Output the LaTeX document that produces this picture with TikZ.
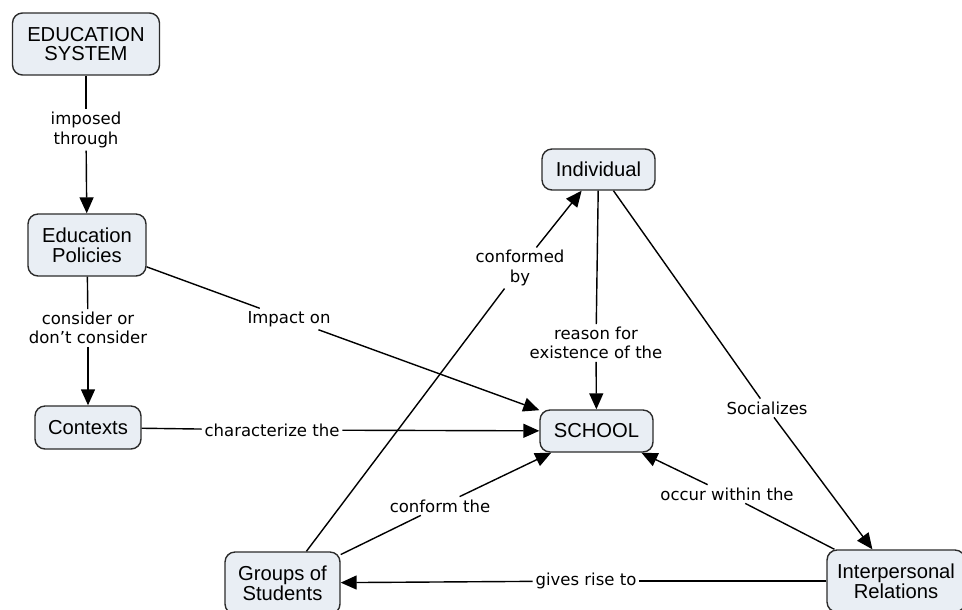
\documentclass[tikz,border=0pt]{standalone}
\usepackage{fontspec}
\setmainfont{Liberation Sans}
\newfontfamily\linkfont{DejaVu Sans}
\usepackage{xcolor}
\usetikzlibrary{arrows.meta,positioning}

\definecolor{conceptfill}{HTML}{E9EEF4}
\definecolor{conceptdraw}{HTML}{2B2B2B}

\tikzset{
    concept/.style={draw=conceptdraw, line width=0.8pt, fill=conceptfill, rounded corners=0.2cm,
        align=center, inner sep=2pt, font=\fontsize{11.5}{11.3}\selectfont},
    linklabel/.style={fill=white, align=center, inner sep=1.5pt,
        font=\linkfont\fontsize{9.4}{10.9}\selectfont},
    link/.style={line width=0.8pt, draw=black},
    arrowlink/.style={link, -{Triangle[length=0.32cm, width=0.28cm]}}
}

\begin{document}
\begin{tikzpicture}[x=0.02cm, y=-0.02cm]
    \useasboundingbox (0,0) rectangle (962,609);

    % Concepts
    \node[concept, minimum width=2.94cm, minimum height=1.24cm] (system) at (86,44) {EDUCATION\\SYSTEM};
    \node[concept, minimum width=2.36cm, minimum height=1.24cm] (policies) at (87,245) {Education\\Policies};
    \node[concept, minimum width=2.12cm, minimum height=0.86cm] (contexts) at (88,427.5) {Contexts};
    \node[concept, minimum width=2.26cm, minimum height=0.84cm] (school) at (596.5,431) {SCHOOL};
    \node[concept, minimum width=2.26cm, minimum height=0.82cm] (individual) at (598.5,169.5) {Individual};
    \node[concept, minimum width=2.30cm, minimum height=1.24cm] (groups) at (282.5,583) {Groups of\\Students};
    \node[concept, minimum width=2.76cm, minimum height=1.24cm] (relations) at (896,581) {Interpersonal\\Relations};

    % Linking phrases
    \node[linklabel] (imposed) at (86,130) {imposed\\through};
    \node[linklabel] (consider) at (88,328) {consider or\\don’t consider};
    \node[linklabel] (impact) at (289,319) {Impact on};
    \node[linklabel] (characterize) at (272,430) {characterize the};
    \node[linklabel] (conformed) at (520,268) {conformed\\by};
    \node[linklabel] (reason) at (596,343) {reason for\\existence of the};
    \node[linklabel] (socializes) at (767,408) {Socializes};
    \node[linklabel] (occur) at (727,494) {occur within the};
    \node[linklabel] (conform) at (440,506) {conform the};
    \node[linklabel] (gives) at (586,581) {gives rise to};

    % Connections
    \draw[link] (system) -- (imposed);
    \draw[arrowlink] (imposed) -- (policies);
    \draw[link] (policies) -- (consider);
    \draw[arrowlink] (consider) -- (contexts);
    \draw[link] (policies) -- (impact);
    \draw[arrowlink] (impact) -- (school);
    \draw[link] (contexts) -- (characterize);
    \draw[arrowlink] (characterize) -- (school);
    \draw[link] (groups) -- (conformed);
    \draw[arrowlink] (conformed) -- (individual);
    \draw[link] (individual) -- (reason);
    \draw[arrowlink] (reason) -- (school);
    \draw[link] (individual) -- (socializes);
    \draw[arrowlink] (socializes) -- (relations);
    \draw[link] (relations) -- (occur);
    \draw[arrowlink] (occur) -- (school);
    \draw[link] (groups) -- (conform);
    \draw[arrowlink] (conform) -- (school);
    \draw[link] (relations) -- (gives);
    \draw[arrowlink] (gives) -- (groups);
\end{tikzpicture}
\end{document}
